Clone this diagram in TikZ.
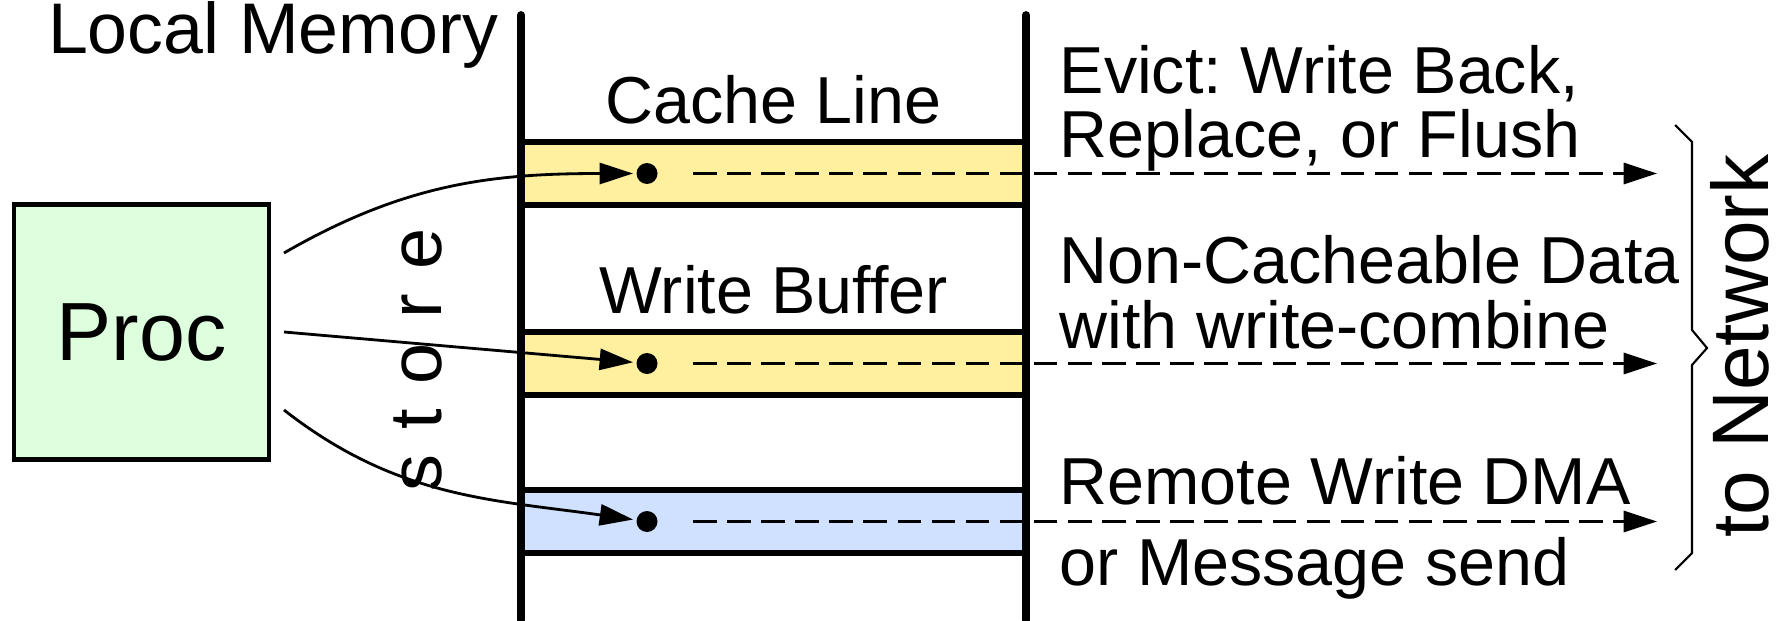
\documentclass[tikz,border=0pt]{standalone}
\usepackage{fontspec}
\setmainfont{Liberation Sans}
\usetikzlibrary{arrows.meta,positioning,calc}
\definecolor{lineyel}{HTML}{FFF0A0}
\definecolor{dmablue}{HTML}{D0E0FF}
\definecolor{procgrn}{HTML}{DDFFDD}
\frenchspacing

\begin{document}
\begin{tikzpicture}[
  bar/.style={draw,line width=1.7pt,minimum width=5.05cm,minimum height=0.63cm,
              inner sep=0pt},
  wall/.style={line width=2.2pt,line cap=round},
  txt/.style={font=\fontsize{18.9}{18.3}\selectfont,inner sep=0pt},
  blob/.style={circle,fill,minimum size=0.21cm,inner sep=0pt,outer sep=1pt},
  storearr/.style={line width=0.8pt,-{Triangle[length=9.5pt,width=6pt]}},
  netarr/.style={line width=0.85pt,dash pattern=on 6.7pt off 3pt,
                 -{Triangle[length=9.5pt,width=6pt]}}
]
\useasboundingbox (0,0) rectangle (17.8,6.2);

% ---- Memory slots -------------------------------------------
\node[bar,fill=lineyel] (cl) at (7.735,4.465) {};
\node[bar,fill=lineyel] (wb) at (7.735,2.565) {};
\node[bar,fill=dmablue] (rw) at (7.735,0.985) {};

\draw[wall] (5.21,0) -- (5.21,6.05);
\draw[wall] (10.26,0) -- (10.26,6.05);

\node[txt,font=\fontsize{20.4}{20}\selectfont,anchor=base east] (lm)
  at (4.99,5.67) {Local Memory};
\node[txt,above=0.14cm of cl] (cll) {Cache Line};
\node[txt,above=0.14cm of wb] (wbl) {Write Buffer};

% ---- Processor and stores -----------------------------------
\node[draw,line width=1.3pt,fill=procgrn,minimum size=2.55cm,
      font=\fontsize{23.5}{24}\selectfont] (proc) at (1.415,2.88) {Proc};

\node[blob] (d1) at (6.47,4.465) {};
\node[blob] (d2) at (6.47,2.565) {};
\node[blob] (d3) at (6.47,0.985) {};

\coordinate (s1) at ($(proc.center)+(1.425,0.79)$);
\coordinate (s2) at ($(proc.center)+(1.425,0)$);
\coordinate (s3) at ($(proc.center)+(1.425,-0.78)$);

\draw[storearr] (s1) to[out=30,in=180] (d1);
\draw[storearr] (s2) -- (d2);
\draw[storearr] (s3) to[out=-38,in=172] (d3);

\node[font=\fontsize{21}{21}\selectfont,rotate=90,anchor=base,inner sep=0pt]
  (st) at (4.417,2.60) {s\,\,t\,\,o\,\,r\,\,e};

% ---- Out to the network -------------------------------------
\coordinate (n1) at (16.57,4.465);
\coordinate (n2) at (16.57,2.565);
\coordinate (n3) at (16.57,0.985);

\draw[netarr,shorten <=0.32cm] (d1) -- (n1);
\draw[netarr,shorten <=0.32cm] (d2) -- (n2);
\draw[netarr,shorten <=0.32cm] (d3) -- (n3);

\node[txt,anchor=base west,align=left] (ev) at (10.59,4.623)
  {Evict: Write Back,\\Replace, or Flush};
\node[txt,anchor=base west,align=left] (nc) at (10.59,2.717)
  {Non-Cacheable Data\\with write-combine};
\node[txt,anchor=base west,align=left] (rd) at (10.59,0.35)
  {Remote Write DMA\\[4.5pt]or Message send};

\draw[line width=0.6pt] (16.75,4.95) -- (16.92,4.78) -- (16.92,2.90)
  -- (17.07,2.72) -- (16.92,2.55) -- (16.92,0.67) -- (16.75,0.50);

\node[font=\fontsize{22.8}{23}\selectfont,rotate=90,anchor=base,inner sep=0pt]
  (net) at (17.68,2.74) {to Network};

\end{tikzpicture}
\end{document}
